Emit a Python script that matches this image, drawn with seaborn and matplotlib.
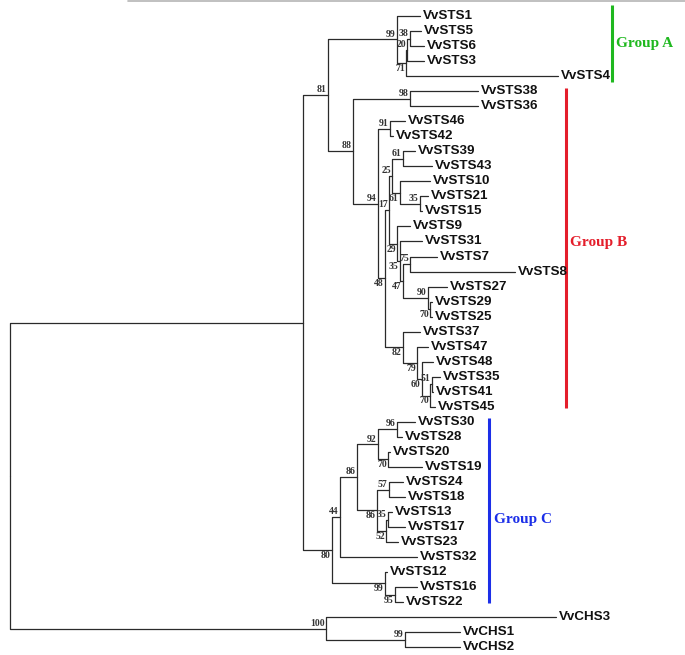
##
## Neighbour-joining tree of grapevine STS / CHS genes
##
import pandas as pd
import matplotlib
matplotlib.use('Agg')
import matplotlib.pyplot as plt
import seaborn as sns
sns.set_style('white')

# clades in newick form, branch lengths, bootstrap as node label
GROUP_A = ("(VvSTS1:0.023,(((VvSTS5:0.011,VvSTS6:0.014)38:0.003,VvSTS3:0.017)20:0.001,"
           "VvSTS4:0.152)71:0.009)99:0.069")
B_25 = ("((VvSTS39:0.012,VvSTS43:0.029)61:0.011,"
        "(VvSTS10:0.030,(VvSTS21:0.008,VvSTS15:0.002)35:0.020)61:0.008)25:0.003")
B_29 = ("(VvSTS9:0.013,(VvSTS31:0.022,((VvSTS7:0.027,VvSTS8:0.105)75:0.007,"
        "(VvSTS27:0.019,(VvSTS29:0.002,VvSTS25:0.002)70:0.002)90:0.025)47:0.003)35:0.003)29:0.008")
B_82 = ("(VvSTS37:0.017,(VvSTS47:0.011,(VvSTS48:0.011,((VvSTS35:0.008,VvSTS41:0.001)51:0.002,"
        "VvSTS45:0.005)70:0.008)60:0.005)79:0.014)82:0.018")
GROUP_B = ("((VvSTS38:0.068,VvSTS36:0.068)98:0.057,((VvSTS46:0.015,VvSTS42:0.003)91:0.012,"
           "((" + B_25 + "," + B_29 + ")17:0.004," + B_82 + ")48:0.007)94:0.025)88:0.025")
C_92 = ("((VvSTS30:0.018,VvSTS28:0.005)96:0.019,(VvSTS20:0.002,VvSTS19:0.034)70:0.010)92:0.021")
C_86 = ("((VvSTS24:0.014,VvSTS18:0.016)57:0.012,((VvSTS13:0.004,VvSTS17:0.017)35:0.002,"
        "VvSTS23:0.012)52:0.009)86:0.020")
C_99 = "(VvSTS12:0.002,(VvSTS16:0.022,VvSTS22:0.008)95:0.010)99:0.053"
GROUP_C = "(((" + C_92 + "," + C_86 + ")86:0.017,VvSTS32:0.077)44:0.008," + C_99 + ")80:0.029"
OUTGROUP = "(VvCHS3:0.230,(VvCHS1:0.055,VvCHS2:0.055)99:0.079)100:0.316"
TREE = "(((" + GROUP_A + "," + GROUP_B + ")81:0.025," + GROUP_C + "):0.293," + OUTGROUP + ");"

# bootstrap labels drawn above the branch although node is a lower child
LABEL_ABOVE = [('VvSTS38', 'VvSTS45'), ('VvSTS46', 'VvSTS45'), ('VvSTS27', 'VvSTS25'),
               ('VvSTS21', 'VvSTS15'), ('VvCHS3', 'VvCHS2'), ('VvCHS1', 'VvCHS2')]

# name, first leaf, last leaf, colour, bar x, pad top, pad bottom, label dy
GROUPS = [('Group A', 'VvSTS1', 'VvSTS4', '#1fb81f', 0.602, 0.73, 0.39, 0.0),
          ('Group B', 'VvSTS38', 'VvSTS45', '#e41e2b', 0.556, 0.21, 0.08, -0.4),
          ('Group C', 'VvSTS30', 'VvSTS22', '#1c2fe8', 0.479, 0.25, 0.06, 0.6)]


def parse(s, i=0):
    node = {'children': [], 'name': '', 'length': 0.0}
    if s[i] == '(':
        i += 1
        while True:
            child, i = parse(s, i)
            node['children'].append(child)
            i += 1
            if s[i - 1] == ')':
                break
    j = i
    while s[i] not in ':,);':
        i += 1
    node['name'] = s[j:i]
    if s[i] == ':':
        j = i + 1
        i = j
        while s[i] not in ',);':
            i += 1
        node['length'] = float(s[j:i])
    return node, i


leaves = []
edges = []
inner = []


def layout(node, x0):
    node['x'] = x0 + node['length']
    if node['children']:
        for k, c in enumerate(node['children']):
            c['lower'] = k > 0
            layout(c, node['x'])
            edges.append((node, c))
        node['y'] = (node['children'][0]['y'] + node['children'][-1]['y']) / 2
        node['first'] = node['children'][0]['first']
        node['last'] = node['children'][-1]['last']
        inner.append(node)
    else:
        node['y'] = len(leaves)
        node['first'] = node['last'] = node['name']
        leaves.append(node)


root, _ = parse(TREE)
layout(root, 0.0)
pos = {lf['name']: lf for lf in leaves}

rows = []
for k, (p, c) in enumerate(edges):
    for x, y in [(p['x'], p['y']), (p['x'], c['y']), (c['x'], c['y'])]:
        rows.append({'seg': k, 'x': x, 'y': y})
segs = pd.DataFrame(rows)

fig = plt.figure(figsize=(6.85, 6.55), dpi=100)
ax = fig.add_axes([0, 0, 1, 1])
sns.lineplot(data=segs, x='x', y='y', units='seg', estimator=None, sort=False,
             color='#2a2a2a', lw=0.9, legend=False, ax=ax)

for lf in leaves:
    ax.text(lf['x'] + 0.003, lf['y'], lf['name'], ha='left', va='center',
            fontsize=9.6, fontweight='bold', family='Liberation Sans', color='#111111')

for nd in inner:
    if not nd['name']:
        continue
    below = nd.get('lower', False) and (nd['first'], nd['last']) not in LABEL_ABOVE
    ax.text(nd['x'] - 0.0012, nd['y'] + (0.06 if below else -0.06), nd['name'],
            ha='right', va='top' if below else 'bottom', fontsize=7,
            fontweight='bold', family='Liberation Serif', color='#333333')

for name, first, last, col, bx, pt, pb, dy in GROUPS:
    y0 = pos[first]['y'] - pt
    y1 = pos[last]['y'] + pb
    ax.plot([bx, bx], [y0, y1], color=col, lw=2.2, solid_capstyle='butt')
    ax.text(bx + 0.0045, (y0 + y1) / 2 + dy, name, ha='left', va='center',
            fontsize=11, fontweight='bold', family='Liberation Serif', color=col)

ax.axhline(-0.998, xmin=128 / 685, xmax=1, color='#b5b5b5', lw=1.2)

ax.set_xlim(-0.010, 0.675)
ax.set_ylim(42.51, -1.065)
ax.axis('off')
fig.savefig('out.png', dpi=100)
